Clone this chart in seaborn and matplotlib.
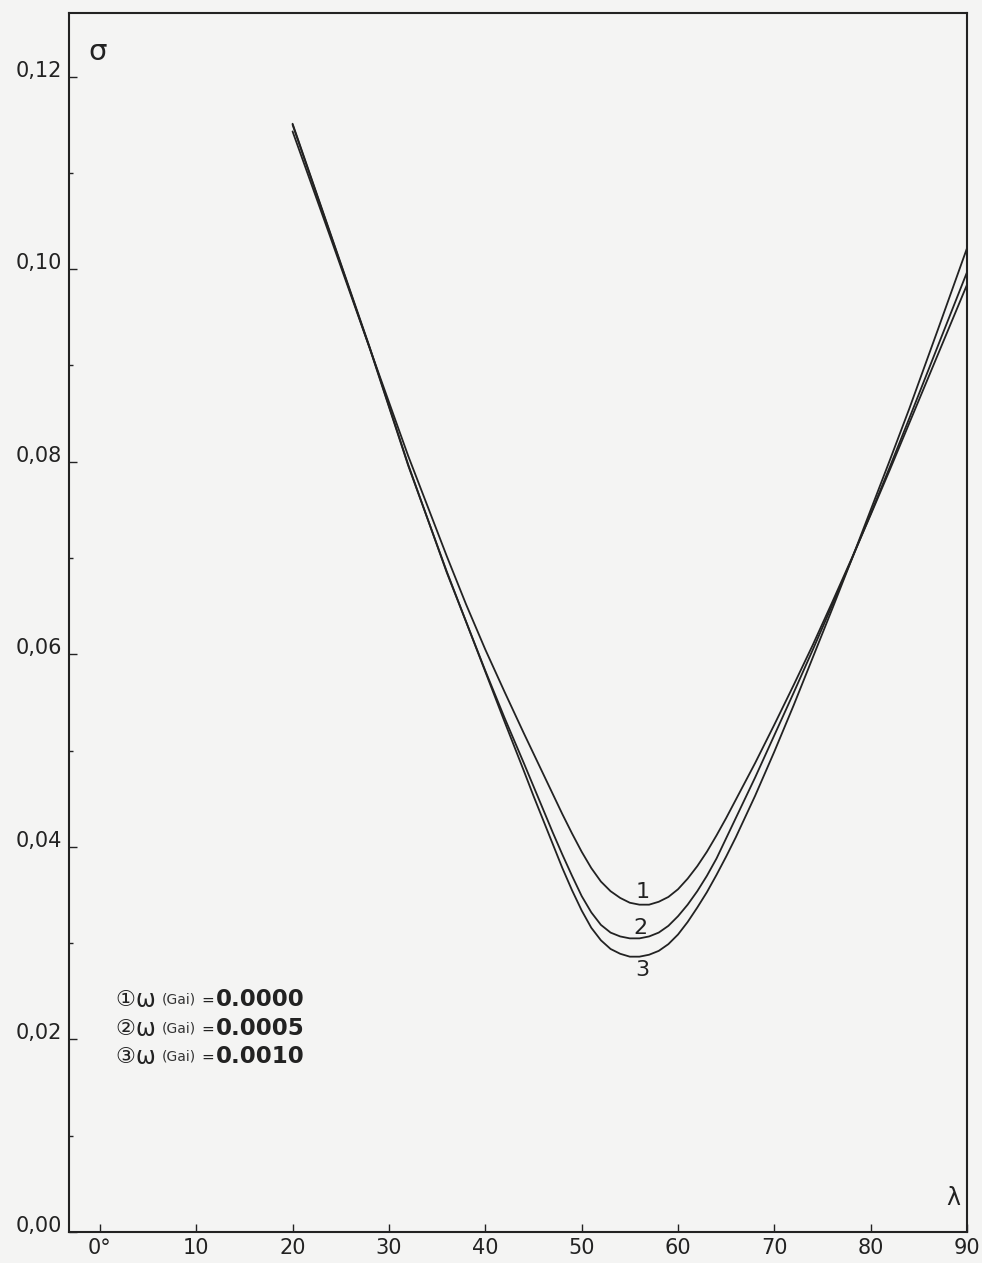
import numpy as np
import pandas as pd
import matplotlib
matplotlib.use("Agg")
import matplotlib.pyplot as plt
import seaborn as sns

# lambda values (deg) where the curves were read
lam = [20, 24, 28, 32, 36, 38, 40, 42, 44,
       45, 46, 47, 48, 49, 50, 51, 52, 53, 54, 55, 56, 57, 58, 59, 60, 61, 62, 63, 64, 65, 66,
       68, 70, 72, 74, 76, 78, 80, 82, 84, 87, 90]

# (1) omega(Gai) = 0.0000
sigma_1 = [0.1143, 0.1031, 0.0918, 0.0806, 0.0702, 0.0652, 0.0605, 0.0561, 0.0518,
           0.0497, 0.0476, 0.0455, 0.0434, 0.0414, 0.0395, 0.0378, 0.0364, 0.0354, 0.0347,
           0.0342, 0.0340, 0.0340, 0.0343, 0.0348, 0.0356, 0.0367, 0.0380, 0.0395, 0.0412,
           0.0430, 0.0449,
           0.0487, 0.0527, 0.0568, 0.0610, 0.0654, 0.0699, 0.0745, 0.0792, 0.0840, 0.0912,
           0.0984]
# (2) omega(Gai) = 0.0005
sigma_2 = [0.1150, 0.1034, 0.0918, 0.0796, 0.0686, 0.0634, 0.0583, 0.0534, 0.0487,
           0.0463, 0.0439, 0.0415, 0.0392, 0.0370, 0.0349, 0.0332, 0.0319, 0.0311, 0.0307,
           0.0305, 0.0305, 0.0307, 0.0311, 0.0318, 0.0328, 0.0340, 0.0354, 0.0370, 0.0388,
           0.0409, 0.0430,
           0.0472, 0.0516, 0.0560, 0.0605, 0.0651, 0.0698, 0.0746, 0.0795, 0.0845, 0.0921,
           0.0997]
# (3) omega(Gai) = 0.0010
sigma_3 = [0.1151, 0.1035, 0.0919, 0.0797, 0.0685, 0.0634, 0.0582, 0.0530, 0.0479,
           0.0453, 0.0428, 0.0403, 0.0378, 0.0355, 0.0334, 0.0316, 0.0303, 0.0294, 0.0289,
           0.0286, 0.0286, 0.0288, 0.0292, 0.0299, 0.0309, 0.0322, 0.0337, 0.0353, 0.0371,
           0.0390, 0.0410,
           0.0453, 0.0499, 0.0547, 0.0597, 0.0647, 0.0698, 0.0750, 0.0802, 0.0855, 0.0938,
           0.1022]

curve_names = ["1", "2", "3"]
omega_vals = ["0.0000", "0.0005", "0.0010"]
circled = ["\u2460", "\u2461", "\u2462"]

x_ticks = [0, 10, 20, 30, 40, 50, 60, 70, 80, 90]
x_labels = ["0°", "10", "20", "30", "40", "50", "60", "70", "80", "90"]
y_ticks = [0.00, 0.02, 0.04, 0.06, 0.08, 0.10, 0.12]
y_labels = ["0,00", "0,02", "0,04", "0,06", "0,08", "0,10", "0,12"]

dt = pd.concat([
    pd.DataFrame({"lam": lam, "sigma": s, "curve": c})
    for s, c in zip([sigma_1, sigma_2, sigma_3], curve_names)
])

sns.set_theme(style="ticks")
plt.rcParams["font.family"] = ["DejaVu Sans"]

bg = "#f4f4f3"
ink = "#222222"
fig = plt.figure(figsize=(9.82, 12.63), dpi=100, facecolor=bg)
ax = fig.add_axes([0.0703, 0.0245, 0.9145, 0.9652])
ax.set_facecolor(bg)

sns.lineplot(data=dt, x="lam", y="sigma", hue="curve", palette=[ink] * 3,
             estimator=None, sort=False, legend=False, linewidth=1.3, ax=ax)

ax.set_xlim(-3.2, 90)
ax.set_ylim(0, 0.1266)
ax.set_xticks(x_ticks)
ax.set_xticklabels(x_labels)
ax.set_yticks(y_ticks)
ax.set_yticklabels(y_labels, va="baseline")
ax.set_yticks(np.arange(0.01, 0.12, 0.02), minor=True)
ax.tick_params(which="major", direction="in", length=6, width=1, labelsize=15,
               colors=ink, pad=5)
ax.tick_params(axis="x", pad=4)
ax.tick_params(which="minor", direction="in", length=3, width=1, colors=ink)
ax.set_xlabel("")
ax.set_ylabel("")
for sp in ax.spines.values():
    sp.set_linewidth(1.5)
    sp.set_color(ink)

# axis symbols
ax.text(-0.2, 0.1226, "σ", fontsize=21, color=ink, ha="center", va="center")
ax.text(88.6, 0.0035, "λ", fontsize=17, color=ink, ha="center", va="center")

# curve numbers
ax.text(56.3, 0.0353, "1", fontsize=16, color=ink, ha="center", va="center")
ax.text(56.1, 0.0316, "2", fontsize=16, color=ink, ha="center", va="center")
ax.text(56.3, 0.0272, "3", fontsize=16, color=ink, ha="center", va="center")

# legend block
leg_y = [0.0241, 0.0211, 0.0182]
for c, w, yy in zip(circled, omega_vals, leg_y):
    ax.text(1.6, yy, c, fontsize=16, color=ink, va="center", ha="left")
    ax.text(3.7, yy, "ω", fontsize=17, color=ink, va="center", ha="left")
    ax.text(6.4, yy, "(Gai)", fontsize=10, color="#333333", va="center", ha="left")
    ax.text(10.5, yy, "=", fontsize=11, color=ink, va="center", ha="left")
    ax.text(12.0, yy, w, fontsize=16.5, fontweight="bold", color=ink,
            va="center", ha="left")

plt.savefig("out.png", dpi=100, facecolor=bg)
